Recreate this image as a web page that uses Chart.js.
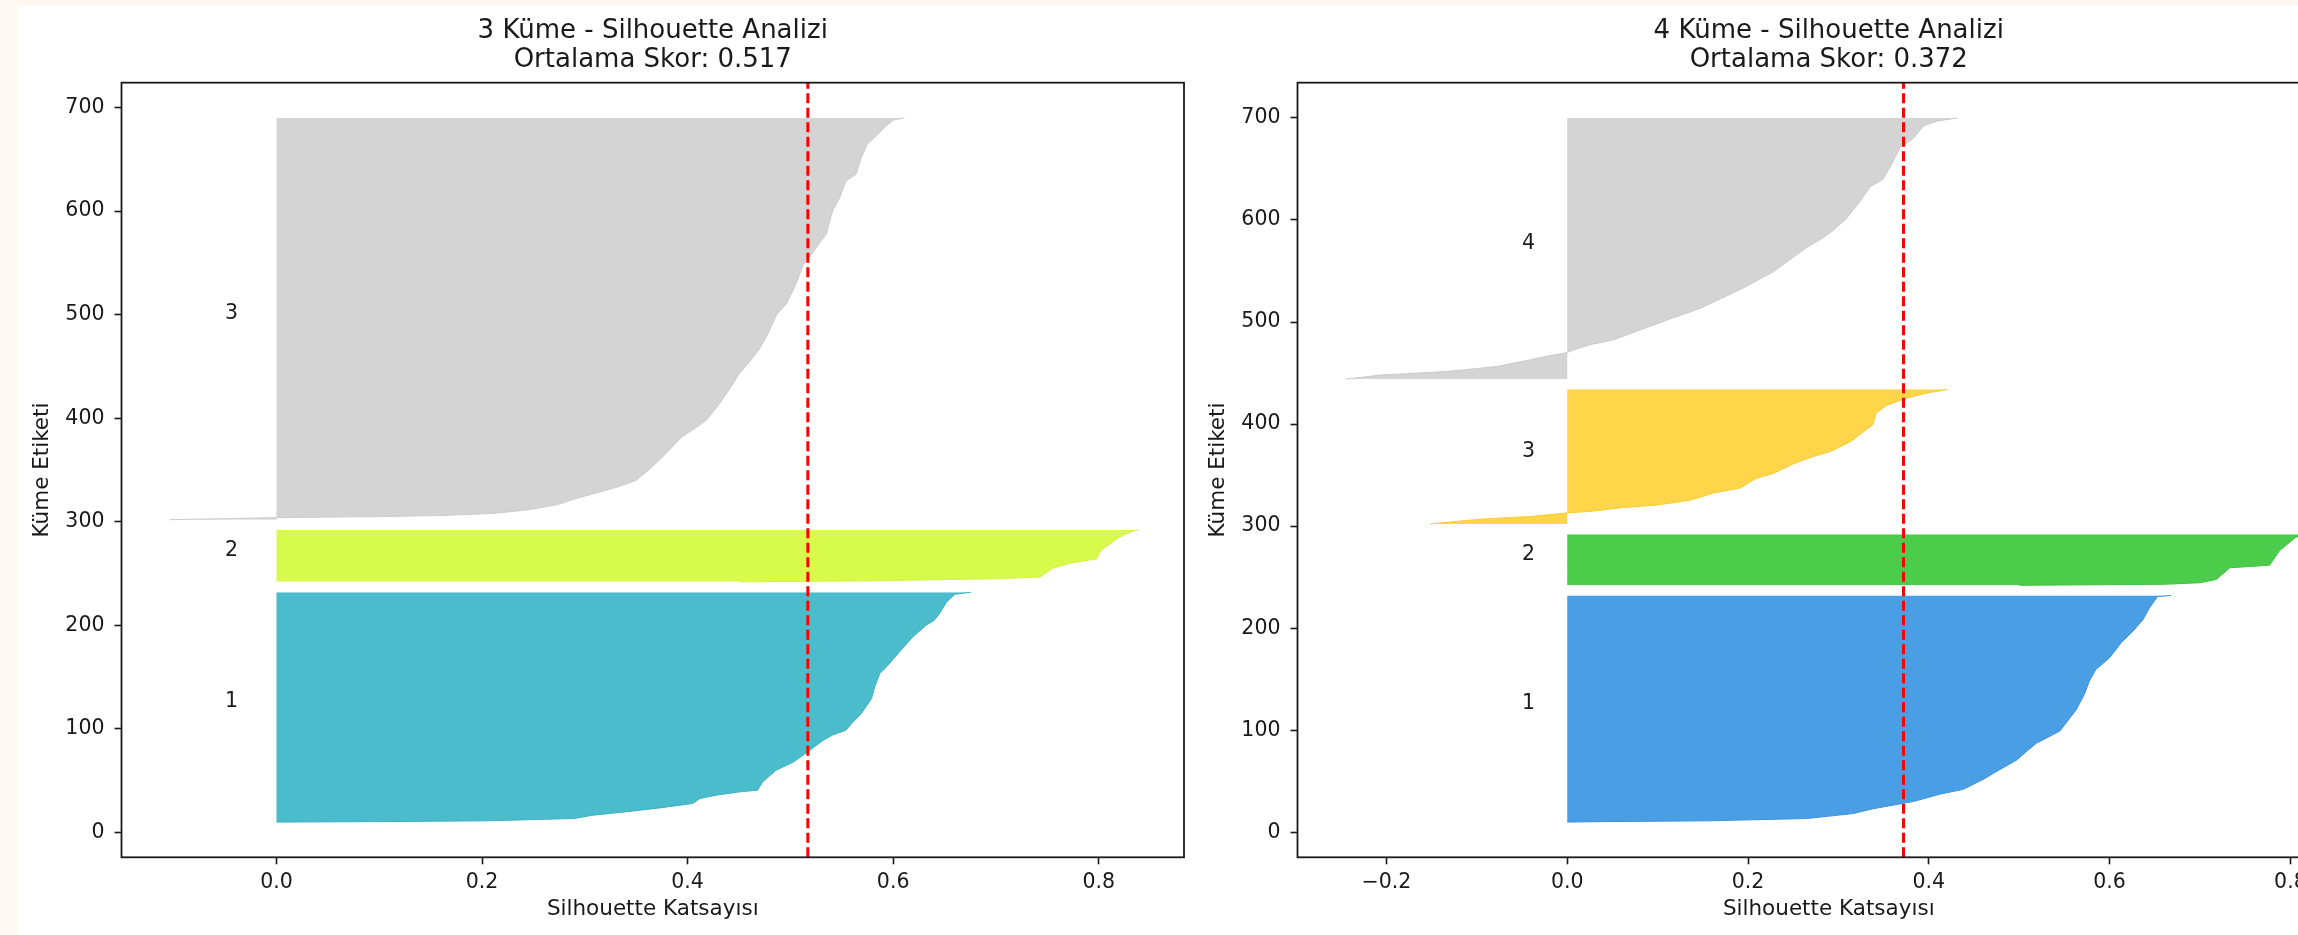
<!DOCTYPE html>
<html>
<head>
<meta charset="utf-8">
<script src="https://cdn.jsdelivr.net/npm/chart.js@4.4.0/dist/chart.umd.min.js"></script>
<style>
  html, body { margin: 0; padding: 0; overflow: hidden; background: #fdf9f2; }
  #fig { position: absolute; left: 17px; top: 5px; width: 2400px; height: 930px; background: #fff; }
  canvas { position: absolute; top: 0; }
  #k3 { left: 0; }
  #k4 { left: 1176px; }
</style>
</head>
<body>
<div id="fig">
  <canvas id="k3" width="1180" height="928"></canvas>
  <canvas id="k4" width="1180" height="928"></canvas>
</div>
<script>
const yTicks = [0, 100, 200, 300, 400, 500, 600, 700];
const xTicksK3 = [0.0, 0.2, 0.4, 0.6, 0.8];
const xTicksK4 = [-0.2, 0.0, 0.2, 0.4, 0.6, 0.8];

const avgK3 = 0.517;
const avgK4 = 0.372;

const sizesK3 = [222, 50, 388];
const sizesK4 = [222, 50, 132, 256];

// silhouette outlines, [row, value]
const k3Cluster1 = [[10, 0.0], [10.5, 0.11], [11.2, 0.205], [13.5, 0.29], [16.7, 0.308], [19.9, 0.34], [23.7, 0.373], [28, 0.405], [32.8, 0.412], [36, 0.428], [39.2, 0.451], [40.8, 0.468], [48.8, 0.473], [60, 0.486], [68, 0.503], [79.4, 0.519], [89, 0.532], [94, 0.541], [98.7, 0.554], [106.7, 0.561], [114.8, 0.569], [129.3, 0.579], [140.5, 0.582], [153.4, 0.587], [161.4, 0.595], [174.2, 0.606], [188.7, 0.619], [200, 0.632], [204.8, 0.64], [211.3, 0.645], [222.5, 0.652], [230, 0.66], [232, 0.676]];
const k3Cluster2 = [[242, 0.45], [243, 0.58], [244, 0.64], [245, 0.7], [246.6, 0.743], [255, 0.755], [260, 0.772], [264.3, 0.798], [272.3, 0.802], [278.8, 0.811], [285, 0.82], [288.4, 0.827], [291, 0.834], [292, 0.838]];
const k3Cluster3 = [[302, -0.104], [303, -0.05], [304, 0.0], [305, 0.1], [306, 0.16], [308, 0.21], [311, 0.24], [314, 0.26], [317.4, 0.276], [322, 0.29], [327, 0.308], [333, 0.33], [340, 0.35], [350, 0.362], [360, 0.373], [370, 0.383], [381.6, 0.394], [388.1, 0.404], [397.7, 0.418], [413.9, 0.431], [429.9, 0.442], [442.8, 0.45], [454, 0.46], [466.9, 0.47], [481.4, 0.478], [500.7, 0.487], [510.3, 0.496], [526.3, 0.504], [548.9, 0.513], [561.7, 0.523], [577.9, 0.535], [600, 0.541], [613, 0.548], [629, 0.554], [635.7, 0.564], [651.8, 0.569], [664.7, 0.575], [676, 0.587], [682, 0.593], [687.8, 0.6], [690, 0.611]];

const k4Cluster1 = [[10, 0.0], [10.5, 0.044], [11.2, 0.154], [13.5, 0.265], [18.3, 0.316], [23, 0.338], [30.2, 0.383], [37.3, 0.412], [42.1, 0.438], [51.7, 0.46], [61.2, 0.478], [70.7, 0.497], [80.7, 0.51], [87.3, 0.519], [99.2, 0.545], [120, 0.563], [135, 0.572], [149.2, 0.578], [159.7, 0.585], [171, 0.6], [186, 0.613], [197.2, 0.626], [208.5, 0.637], [219.8, 0.644], [231, 0.653], [232, 0.668]];
const k4Cluster2 = [[242, 0.5], [243, 0.66], [244.5, 0.7], [247.7, 0.718], [259.2, 0.733], [261.7, 0.777], [276, 0.788], [289.2, 0.806], [292, 0.83]];
const k4Cluster3 = [[302, -0.152], [304, -0.13], [306.8, -0.096], [309.4, -0.041], [312, -0.01], [313, 0.0], [314.4, 0.025], [318.2, 0.062], [320.6, 0.099], [325.4, 0.136], [332.5, 0.162], [337.2, 0.191], [346.8, 0.209], [351.5, 0.228], [361, 0.25], [368.2, 0.272], [373, 0.291], [382.5, 0.313], [392, 0.327], [399.2, 0.338], [411, 0.342], [418.2, 0.353], [425.4, 0.375], [430.2, 0.397], [434, 0.421]];
const k4Cluster4 = [[444, -0.245], [448, -0.207], [451.5, -0.133], [456.4, -0.078], [463, -0.041], [467, -0.02], [470, 0.0], [472, 0.005], [477.7, 0.025], [482.5, 0.051], [492, 0.08], [504, 0.117], [513.4, 0.147], [525.3, 0.176], [534.8, 0.198], [549.2, 0.228], [563.4, 0.25], [573, 0.265], [582.5, 0.283], [589.6, 0.294], [601.5, 0.309], [618.2, 0.324], [632.5, 0.335], [639.6, 0.349], [651.5, 0.357], [670.5, 0.368], [680, 0.383], [692, 0.394], [696.7, 0.408], [700, 0.432]];

const FONT = '"DejaVu Sans", sans-serif';
const INK = '#1a1a1a';

const fmt = v => (v < 0 ? '\u2212' : '') + Math.abs(v).toFixed(1);

// full box round the plot, like matplotlib spines
const frame = {
    id: 'frame',
    afterDraw(chart) {
        const {ctx, chartArea: a} = chart;
        ctx.save();
        ctx.strokeStyle = INK;
        ctx.lineWidth = 1.8;
        ctx.strokeRect(a.left, a.top, a.right - a.left, a.bottom - a.top);
        ctx.restore();
    }
};

// cluster numbers at x = -0.05, centred on each block
const clusterText = {
    id: 'clusterText',
    afterDatasetsDraw(chart, args, opts) {
        const {ctx, scales: {x, y}} = chart;
        ctx.save();
        ctx.font = '20.5px ' + FONT;
        ctx.fillStyle = INK;
        ctx.textAlign = 'left';
        ctx.textBaseline = 'alphabetic';
        let lower = 10;
        opts.sizes.forEach((n, i) => {
            ctx.fillText(String(i + 1), x.getPixelForValue(-0.05), y.getPixelForValue(lower + n / 2));
            lower += n + 10;
        });
        ctx.restore();
    }
};

function silhouetteChart(id, k, avg, outlines, colors, edges, sizes, xTicks, xRange, yRange) {
    const datasets = outlines.map((pts, i) => ({
        data: pts.map(([row, s]) => ({x: s, y: row})),
        backgroundColor: colors[i],
        borderColor: edges[i],
        borderWidth: 1,
        fill: 'origin',
        pointRadius: 0,
        tension: 0,
        order: 1
    }));
    datasets.push({
        data: [{x: avg, y: yRange[0]}, {x: avg, y: yRange[1]}],
        borderColor: '#ff0000',
        borderWidth: 3,
        borderDash: [10, 4.5],
        pointRadius: 0,
        fill: false,
        order: 0
    });

    return new Chart(document.getElementById(id), {
        type: 'line',
        data: {datasets},
        plugins: [frame, clusterText],
        options: {
            responsive: false,
            animation: false,
            indexAxis: 'y',
            layout: {padding: {right: 13}},
            scales: {
                x: {
                    type: 'linear',
                    position: 'bottom',
                    min: xRange[0],
                    max: xRange[1],
                    afterBuildTicks: s => { s.ticks = xTicks.map(v => ({value: v})); },
                    afterFit: s => { s.height = 75.7; },
                    grid: {drawOnChartArea: false, drawTicks: true, tickLength: 7, tickWidth: 1.6, tickColor: INK},
                    border: {display: false},
                    ticks: {color: INK, font: {family: FONT, size: 20.5}, padding: 6, callback: v => fmt(v), maxRotation: 0},
                    title: {display: true, text: 'Silhouette Katsayısı', color: INK, font: {family: FONT, size: 21.5}, padding: {top: 0, bottom: 10.4}}
                },
                y: {
                    type: 'linear',
                    position: 'left',
                    min: yRange[0],
                    max: yRange[1],
                    afterBuildTicks: s => { s.ticks = yTicks.map(v => ({value: v})); },
                    afterFit: s => { s.width = 104.5; },
                    grid: {drawOnChartArea: false, drawTicks: true, tickLength: 7, tickWidth: 1.6, tickColor: INK},
                    border: {display: false},
                    ticks: {color: INK, font: {family: FONT, size: 20.5}, padding: 10, callback: v => String(v)},
                    title: {display: true, text: 'Küme Etiketi', color: INK, font: {family: FONT, size: 21.5}, padding: {top: 13, bottom: 0}}
                }
            },
            plugins: {
                legend: {display: false},
                tooltip: {enabled: false},
                clusterText: {sizes},
                title: {
                    display: true,
                    fullSize: false,
                    text: [k + ' Küme - Silhouette Analizi', 'Ortalama Skor: ' + avg.toFixed(3)],
                    color: INK,
                    font: {family: FONT, size: 26, weight: 'normal', lineHeight: 1.115},
                    padding: {top: 11.5, bottom: 8.2}
                }
            }
        }
    });
}

silhouetteChart('k3', 3, avgK3,
    [k3Cluster1, k3Cluster2, k3Cluster3],
    ['#4bbccb', '#d8fa4b', '#d4d4d4'],
    ['#3bb1c2', '#cdf43a', '#cbcbcb'],
    sizesK3, xTicksK3, [-0.1508, 0.883], [-24, 724]);

silhouetteChart('k4', 4, avgK4,
    [k4Cluster1, k4Cluster2, k4Cluster3, k4Cluster4],
    ['#4a9ee4', '#4bcc4b', '#ffd54a', '#d4d4d4'],
    ['#3a92dc', '#3cc23c', '#fcca35', '#cbcbcb'],
    sizesK4, xTicksK4, [-0.2984, 0.877], [-24.5, 734.5]);
</script>
</body>
</html>
